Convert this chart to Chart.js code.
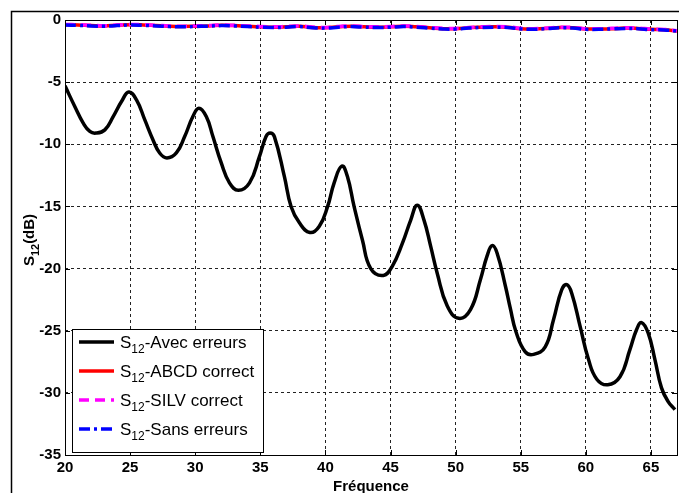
<!DOCTYPE html>
<html>
<head>
<meta charset="utf-8">
<script src="https://cdn.jsdelivr.net/npm/chart.js@4/dist/chart.umd.min.js"></script>
<style>
  body { margin: 0; background: #fff; }
  canvas { display: block; }
</style>
</head>
<body>
<canvas id="myChart" width="679" height="493"></canvas>
<script>
// Data
var freqAvec = [20, 20.77, 21.4, 21.91, 22.37, 23.06, 23.7, 24.34, 24.9, 25.49, 26.13, 26.76, 27.27, 27.83,
    28.55, 29.19, 29.82, 30.28, 30.85, 31.36, 32.0, 32.63, 33.32, 34.17, 34.93, 35.44, 35.75,
    36.08, 36.85, 37.36, 37.99, 38.81, 39.53, 40.17, 40.67, 41.26, 41.69, 42.2, 42.84, 43.48, 44.45,
    45.14, 45.9, 46.55, 47.05, 47.57, 48.08, 48.59, 49.35, 50.24, 51.14, 51.9, 52.41, 52.8,
    53.18, 53.82, 54.2, 54.64, 55.35, 55.99, 56.88, 57.52, 58.15, 58.54, 58.92, 59.56, 60.2, 60.84, 61.68,
    62.62, 63.39, 63.9, 64.28, 64.79, 65.3, 65.81, 66.32, 66.84];
var s12Avec = [-5.3, -7.0, -8.3, -8.97, -9.1, -8.84, -7.77, -6.56, -5.8, -6.43, -8.04, -9.65, -10.7, -11.1,
    -10.7, -9.38, -7.77, -7.1, -7.77, -9.38, -11.5, -13.1, -13.7, -13.1, -11.0, -9.38, -9.1,
    -9.38, -12.6, -15.0, -16.3, -17.1, -16.6, -15.0, -13.1, -11.75, -12.6, -15.0, -17.7, -20.0, -20.55,
    -19.8, -18.0, -16.1, -14.9, -16.1, -18.2, -20.4, -23.0, -24.0, -23.3, -20.9, -19.0, -18.15,
    -18.75, -21.4, -23.2, -25.1, -26.7, -26.9, -26.3, -24.1, -21.7, -21.3, -22.0, -24.65, -27.3, -28.9, -29.35,
    -28.7, -26.5, -24.9, -24.35, -25.2, -27.3, -29.6, -30.7, -31.35];

var freqFlat = [20, 21, 22, 23, 24, 25, 26, 27, 28, 29, 30, 31, 32, 33, 34, 35, 36, 37, 38, 39, 40, 41, 42, 43,
    44, 45, 46, 47, 48, 49, 50, 51, 52, 53, 54, 55, 56, 57, 58, 59, 60, 61, 62, 63, 64, 65, 66, 67];
var s12ABCD = [-0.38, -0.40, -0.45, -0.48, -0.42, -0.38, -0.40, -0.45, -0.50, -0.52, -0.50, -0.48, -0.42, -0.45, -0.50, -0.55,
    -0.58, -0.55, -0.50, -0.60, -0.62, -0.55, -0.50, -0.55, -0.58, -0.55, -0.50, -0.55, -0.62, -0.70, -0.70, -0.62,
    -0.58, -0.55, -0.58, -0.70, -0.72, -0.68, -0.60, -0.62, -0.72, -0.72, -0.70, -0.65, -0.68, -0.75, -0.78, -0.88];
var s12SILV = [-0.36, -0.38, -0.42, -0.46, -0.40, -0.36, -0.38, -0.42, -0.48, -0.50, -0.47, -0.45, -0.40, -0.43, -0.48, -0.52,
    -0.55, -0.52, -0.48, -0.57, -0.60, -0.52, -0.48, -0.52, -0.55, -0.52, -0.48, -0.52, -0.60, -0.67, -0.68, -0.60,
    -0.55, -0.52, -0.55, -0.67, -0.70, -0.65, -0.58, -0.60, -0.70, -0.70, -0.67, -0.62, -0.65, -0.72, -0.76, -0.86];
var s12Sans = [-0.40, -0.43, -0.48, -0.50, -0.45, -0.40, -0.43, -0.48, -0.53, -0.55, -0.52, -0.50, -0.45, -0.48, -0.53, -0.58,
    -0.60, -0.58, -0.53, -0.63, -0.65, -0.58, -0.53, -0.58, -0.60, -0.58, -0.53, -0.58, -0.65, -0.72, -0.73, -0.65,
    -0.60, -0.58, -0.60, -0.72, -0.75, -0.70, -0.63, -0.65, -0.75, -0.75, -0.72, -0.68, -0.70, -0.78, -0.80, -0.90];

var xTicks = [20, 25, 30, 35, 40, 45, 50, 55, 60, 65];
var yTicks = [0, -5, -10, -15, -20, -25, -30, -35];
var legendNames = ['-Avec erreurs', '-ABCD correct', '-SILV correct', '-Sans erreurs'];

function toPoints(xs, ys) {
    var pts = [];
    for (var i = 0; i < xs.length; i++) {
        pts.push({ x: xs[i], y: ys[i] });
    }
    return pts;
}

var styles = [
    { color: '#000000', dash: [], width: 3.5 },
    { color: '#ff0000', dash: [], width: 3.5 },
    { color: '#ff00ff', dash: [10, 6], width: 3.5 },
    { color: '#0000ff', dash: [11, 4, 3, 4], width: 3.5 }
];

// Axes box, inner ticks, legend and titles (MATLAB look)
var decorations = {
    id: 'decorations',
    beforeDraw: function (chart) {
        var c = chart.ctx;
        c.save();
        c.fillStyle = '#fff';
        c.fillRect(0, 0, chart.width, chart.height);
        c.restore();
    },
    afterDraw: function (chart) {
        var c = chart.ctx;
        var a = chart.chartArea;
        var xs = chart.scales.x, ys = chart.scales.y;
        c.save();

        // outer figure frame
        c.strokeStyle = '#000';
        c.lineWidth = 1.5;
        c.beginPath();
        c.moveTo(11.5, chart.height);
        c.lineTo(11.5, 11.5);
        c.lineTo(chart.width, 11.5);
        c.stroke();

        // axes box
        c.lineWidth = 1;
        c.strokeRect(Math.round(a.left) + 0.5, Math.round(a.top) + 0.5,
            Math.round(a.right - a.left), Math.round(a.bottom - a.top));

        // inner ticks
        c.beginPath();
        xTicks.forEach(function (v) {
            var px = Math.round(xs.getPixelForValue(v)) + 0.5;
            c.moveTo(px, a.top); c.lineTo(px, a.top + 5);
            c.moveTo(px, a.bottom); c.lineTo(px, a.bottom - 5);
        });
        yTicks.forEach(function (v) {
            var py = Math.round(ys.getPixelForValue(v)) + 0.5;
            c.moveTo(a.left, py); c.lineTo(a.left + 5, py);
            c.moveTo(a.right, py); c.lineTo(a.right - 5, py);
        });
        c.stroke();

        // legend
        var lx = 72, ly = 329, lw = 191, lh = 123;
        c.fillStyle = '#fff';
        c.fillRect(lx, ly, lw, lh);
        c.strokeStyle = '#000';
        c.lineWidth = 1;
        c.strokeRect(lx + 0.5, ly + 0.5, lw, lh);
        var rows = [342, 371, 400, 429];
        for (var i = 0; i < legendNames.length; i++) {
            var st = styles[i];
            c.strokeStyle = st.color;
            c.lineWidth = st.width;
            c.setLineDash(st.dash);
            c.beginPath();
            c.moveTo(79, rows[i]);
            c.lineTo(114, rows[i]);
            c.stroke();
            c.setLineDash([]);
            c.fillStyle = '#000';
            c.textBaseline = 'alphabetic';
            c.textAlign = 'left';
            var tx = 120, base = rows[i] + 6;
            c.font = '17px "Liberation Sans", Arial, sans-serif';
            c.fillText('S', tx, base);
            tx += c.measureText('S').width;
            c.font = '12px "Liberation Sans", Arial, sans-serif';
            c.fillText('12', tx, base + 5);
            tx += c.measureText('12').width;
            c.font = '17px "Liberation Sans", Arial, sans-serif';
            c.fillText(legendNames[i], tx, base);
        }

        // y title
        c.save();
        c.translate(34, 240);
        c.rotate(-Math.PI / 2);
        c.fillStyle = '#000';
        c.textBaseline = 'alphabetic';
        c.font = 'bold 15px "Liberation Sans", Arial, sans-serif';
        var w1 = c.measureText('S').width;
        c.font = 'bold 11px "Liberation Sans", Arial, sans-serif';
        var w2 = c.measureText('12').width;
        c.font = 'bold 15px "Liberation Sans", Arial, sans-serif';
        var w3 = c.measureText('(dB)').width;
        var sx = -(w1 + w2 + w3) / 2;
        c.fillText('S', sx, 0);
        c.font = 'bold 11px "Liberation Sans", Arial, sans-serif';
        c.fillText('12', sx + w1, 5);
        c.font = 'bold 15px "Liberation Sans", Arial, sans-serif';
        c.fillText('(dB)', sx + w1 + w2, 0);
        c.restore();

        // x title
        c.fillStyle = '#000';
        c.font = 'bold 15px "Liberation Sans", Arial, sans-serif';
        c.textAlign = 'center';
        c.textBaseline = 'alphabetic';
        c.fillText('Fréquence', (a.left + a.right) / 2, 491);

        c.restore();
    }
};

var datasets = [
    { data: toPoints(freqAvec, s12Avec), order: 3 },
    { data: toPoints(freqFlat, s12ABCD), order: 2 },
    { data: toPoints(freqFlat, s12SILV), order: 1 },
    { data: toPoints(freqFlat, s12Sans), order: 0 }
];
for (var i = 0; i < datasets.length; i++) {
    datasets[i].label = 'S12' + legendNames[i];
    datasets[i].borderColor = styles[i].color;
    datasets[i].borderWidth = styles[i].width;
    datasets[i].borderDash = styles[i].dash;
    datasets[i].pointRadius = 0;
    datasets[i].fill = false;
    datasets[i].tension = 0.45;
}

const ctx = document.getElementById('myChart');
new Chart(ctx, {
    type: 'line',
    data: { datasets: datasets },
    options: {
        responsive: false,
        animation: false,
        layout: { padding: { top: 20, right: 2, left: 0, bottom: 0 } },
        plugins: {
            legend: { display: false },
            tooltip: { enabled: false }
        },
        scales: {
            x: {
                type: 'linear',
                min: 20,
                max: 67,
                afterFit: function (scale) { scale.height = 38; },
                afterBuildTicks: function (scale) {
                    scale.ticks = xTicks.map(function (v) { return { value: v }; });
                },
                grid: { color: '#222', lineWidth: 1, drawTicks: false },
                border: { display: false, dash: [3, 3] },
                ticks: {
                    color: '#000',
                    padding: 4,
                    maxRotation: 0,
                    font: { family: '"Liberation Sans", Arial, sans-serif', size: 15, weight: 'bold' }
                }
            },
            y: {
                type: 'linear',
                min: -35,
                max: 0,
                afterFit: function (scale) { scale.width = 65; },
                afterBuildTicks: function (scale) {
                    scale.ticks = yTicks.map(function (v) { return { value: v }; });
                },
                grid: { color: '#222', lineWidth: 1, drawTicks: false },
                border: { display: false, dash: [3, 3] },
                ticks: {
                    color: '#000',
                    padding: 4,
                    font: { family: '"Liberation Sans", Arial, sans-serif', size: 15, weight: 'bold' }
                }
            }
        }
    },
    plugins: [decorations]
});
</script>
</body>
</html>
